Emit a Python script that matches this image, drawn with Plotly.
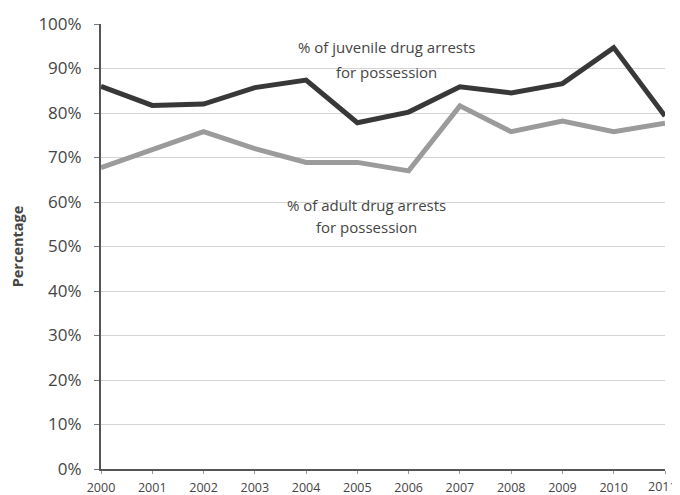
import plotly.graph_objects as go

years = [2000, 2001, 2002, 2003, 2004, 2005, 2006, 2007, 2008, 2009, 2010, 2011]
juvenile = [86.0, 81.7, 82.0, 85.7, 87.4, 77.8, 80.2, 85.9, 84.5, 86.6, 94.7, 79.3]
adult = [67.7, 71.8, 75.8, 72.0, 68.9, 68.9, 67.0, 81.6, 75.8, 78.2, 75.8, 77.7]
y_ticks = [0, 10, 20, 30, 40, 50, 60, 70, 80, 90, 100]
y_labels = [f"{v}%" for v in y_ticks]
x_labels = [str(y) for y in years]

juv_label = ["% of juvenile drug arrests", "for possession"]
adult_label = ["% of adult drug arrests", "for possession"]

FONT = "Open Sans"
TXT = "#454545"

fig = go.Figure()
fig.add_trace(go.Scatter(x=years, y=adult, mode="lines",
                         line=dict(color="#9b9b9b", width=5), showlegend=False))
fig.add_trace(go.Scatter(x=years, y=juvenile, mode="lines",
                         line=dict(color="#383838", width=5), showlegend=False))

for txt, yv in zip(juv_label, [94.8, 89.2]):
    fig.add_annotation(x=2005.56, y=yv, text=txt, showarrow=False,
                       font=dict(family=FONT, size=15, color=TXT),
                       xanchor="center", yanchor="middle")
for txt, yv in zip(adult_label, [59.3, 54.4]):
    fig.add_annotation(x=2005.17, y=yv, text=txt, showarrow=False,
                       font=dict(family=FONT, size=15, color=TXT),
                       xanchor="center", yanchor="middle")

# last year label sits at the right edge of the page: right-align it so it stays visible
fig.add_annotation(x=years[-1], y=0, xref="x", yref="paper", text=x_labels[-1],
                   showarrow=False, xanchor="right", yanchor="middle",
                   xshift=13, yshift=-17, borderpad=0,
                   font=dict(family=FONT, size=12.5, color=TXT))

# the page body has an 8px margin, so the figure is sized to fit the window
fig.update_layout(
    width=672, height=487,
    margin=dict(l=93, r=15, t=16, b=26),
    plot_bgcolor="white", paper_bgcolor="white",
    font=dict(family=FONT, color=TXT),
)
fig.update_xaxes(
    range=[2000, 2011], tickmode="array", tickvals=years,
    ticktext=x_labels[:-1] + [""],
    tickfont=dict(size=12.5, color=TXT),
    showgrid=False, showline=True, linecolor="#555", linewidth=2,
    ticks="outside", ticklen=3, tickcolor="#999", zeroline=False,
    automargin=False, ticklabelstandoff=3, ticklabeloverflow="allow",
)
fig.update_yaxes(
    range=[0, 100], tickmode="array", tickvals=y_ticks, ticktext=y_labels,
    tickfont=dict(size=17, color=TXT),
    showgrid=True, gridcolor="#d4d4d4", gridwidth=1,
    showline=True, linecolor="#555", linewidth=2,
    ticks="outside", ticklen=5, tickcolor="#777", zeroline=False,
    automargin=False, ticklabelstandoff=9,
    title=dict(text="<b>Percentage</b>", font=dict(size=14.5, color=TXT), standoff=14),
)

fig.write_html("out.html")
